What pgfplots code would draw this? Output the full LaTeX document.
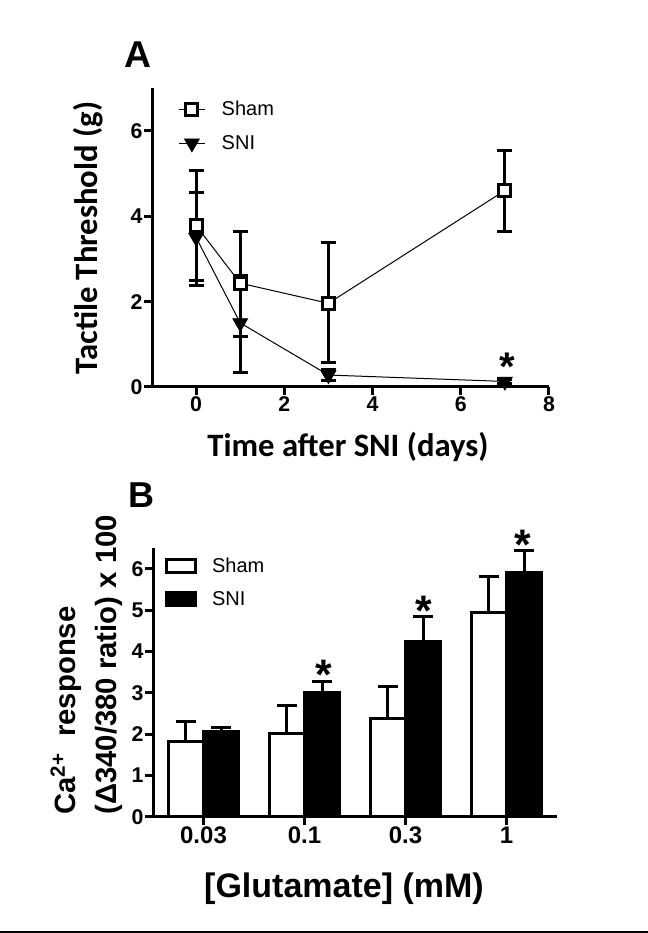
\documentclass[border=0pt]{standalone}
\usepackage{fontspec}
\setmainfont{Liberation Sans}
\newfontfamily\calibri{Carlito}
\usepackage{pgfplots}
\pgfplotsset{compat=1.18}
\begin{document}
\begin{tikzpicture}
\useasboundingbox (0,0) rectangle (486pt,699.75pt);
\fill[white] (0,0) rectangle (486pt,699.75pt);
\draw[line width=1.5pt] (0,0.75pt) -- (486pt,0.75pt);

% ---------- Panel A ----------
\begin{axis}[
  at={(114pt,409.5pt)}, anchor=south west,
  scale only axis, width=297.75pt, height=224.25pt,
  xmin=-1, xmax=8, ymin=0, ymax=7,
  axis lines=left, axis line style={-, line width=2.25pt},
  xtick={0,2,4,6,8}, ytick={0,2,4,6},
  tick align=outside, major tick length=6pt,
  every tick/.style={black, line width=2.25pt},
  xticklabel style={font=\fontsize{16}{16}\selectfont\bfseries, inner sep=1pt},
  yticklabel style={font=\fontsize{16}{16}\selectfont\bfseries, inner sep=1pt},
  /pgf/number format/assume math mode=true,
  clip=false,
  legend style={draw=none, fill=none, at={(axis description cs:0.065,0.965)}, anchor=north west,
    inner sep=0pt, row sep=9pt,
    nodes={font=\fontsize{15}{15}\selectfont},
    /tikz/every odd column/.append style={column sep=10pt}},
  legend cell align=left,
  legend image code/.code={\draw[#1, mark repeat=2, mark phase=2] plot coordinates {(0pt,0pt) (10pt,0pt) (20pt,0pt)};},
]
\addplot[black, line width=0.75pt, mark=square*, mark options={fill=white, line width=2.25pt, mark size=4.5pt, solid},
  error bars/.cd, y dir=both, y explicit,
  error bar style={line width=2.25pt, black},
  error mark options={rotate=90, mark size=5.6pt, line width=2.25pt, black}]
coordinates {
 (0,3.78) += (0,1.28) -= (0,1.41)
 (1,2.43) += (0,1.22) -= (0,1.24)
 (3,1.96) += (0,1.42) -= (0,1.39)
 (7,4.60) += (0,0.93) -= (0,0.96)
};
\addlegendentry{Sham}
\addplot[black, line width=0.75pt, mark=triangle*, mark options={fill=black, rotate=180, mark size=6.5pt, line width=0.5pt, solid},
  error bars/.cd, y dir=both, y explicit,
  error bar style={line width=2.25pt, black},
  error mark options={rotate=90, mark size=5.6pt, line width=2.25pt, black}]
coordinates {
 (0,3.50) += (0,1.05) -= (0,1.01)
 (1,1.50) += (0,1.10) -= (0,1.16)
 (3,0.28) += (0,0.12) -= (0,0.12)
 (7,0.13) += (0,0.04) -= (0,0.04)
};
\addlegendentry{SNI}
\node[font=\bfseries\fontsize{30}{30}\selectfont, yshift=-6pt] at (axis cs:7.06,0.67) {*};
\end{axis}

\node[font=\bfseries\fontsize{28}{28}\selectfont] at (103.5pt,658.5pt) {A};
\node[font=\calibri\bfseries\fontsize{24.5}{24.5}\selectfont, anchor=base, inner sep=0pt] at (261pt,357pt) {Time after SNI (days)};
\node[font=\calibri\bfseries\fontsize{24.5}{24.5}\selectfont, anchor=base, inner sep=0pt, rotate=90] at (72.75pt,521.25pt) {Tactile Threshold (g)};

% ---------- Panel B ----------
\begin{axis}[
  at={(114.75pt,87pt)}, anchor=south west,
  scale only axis, width=303pt, height=201.75pt,
  xmin=-0.5, xmax=3.5, ymin=0, ymax=6.5,
  axis lines=left, axis line style={-, line width=2.25pt},
  xtick={0,1,2,3}, xticklabels={0.03,0.1,0.3,1}, ytick={0,1,2,3,4,5,6},
  tick align=outside, major tick length=6pt,
  every tick/.style={black, line width=2.25pt},
  xticklabel style={font=\fontsize{18}{18}\selectfont\bfseries, inner sep=1pt},
  yticklabel style={font=\fontsize{16}{16}\selectfont\bfseries, inner sep=1pt},
  /pgf/number format/assume math mode=true,
  clip=false,
  legend style={draw=none, fill=none, at={(axis description cs:0.03,0.975)}, anchor=north west,
    inner sep=0pt, row sep=9pt,
    nodes={font=\fontsize{15}{15}\selectfont},
    /tikz/every odd column/.append style={column sep=9pt}},
  legend cell align=left,
  legend image code/.code={\draw[#1] (0pt,-4.9pt) rectangle (21.75pt,4.9pt);},
]
\addplot[ybar, bar width=0.35, bar shift=0, draw=black, fill=white, line width=2.25pt,
  error bars/.cd, y dir=plus, y explicit,
  error bar style={line width=2.25pt, black},
  error mark options={rotate=90, mark size=7.5pt, line width=2.25pt, black}]
coordinates {
 (-0.175,1.82) +- (0,0.49)
 (0.825,2.01) +- (0,0.68)
 (1.825,2.39) +- (0,0.76)
 (2.825,4.95) +- (0,0.87)
};
\addlegendentry{Sham}
\addplot[ybar, bar width=0.35, bar shift=0, draw=black, fill=black, line width=2.25pt,
  error bars/.cd, y dir=plus, y explicit,
  error bar style={line width=2.25pt, black},
  error mark options={rotate=90, mark size=7.5pt, line width=2.25pt, black}]
coordinates {
 (0.175,2.07) +- (0,0.09)
 (1.175,3.00) +- (0,0.28)
 (2.175,4.24) +- (0,0.60)
 (3.175,5.92) +- (0,0.53)
};
\addlegendentry{SNI}
\node[font=\bfseries\fontsize{32}{32}\selectfont, yshift=-6pt] at (axis cs:1.19,3.64) {*};
\node[font=\bfseries\fontsize{32}{32}\selectfont, yshift=-6pt] at (axis cs:2.18,5.17) {*};
\node[font=\bfseries\fontsize{32}{32}\selectfont, yshift=-6pt] at (axis cs:3.16,6.78) {*};
\end{axis}

\node[font=\bfseries\fontsize{27}{27}\selectfont] at (105.75pt,328.5pt) {B};
\node[font=\bfseries\fontsize{25.5}{25.5}\selectfont, anchor=base, inner sep=0pt] at (258pt,27pt) {[Glutamate] (mM)};
\node[font=\bfseries\fontsize{22}{22}\selectfont, anchor=base west, inner sep=0pt, rotate=90] at (56.25pt,88.5pt) {Ca\textsuperscript{2+}\ \ response};
\node[font=\bfseries\fontsize{22}{22}\selectfont, anchor=base west, inner sep=0pt, rotate=90] at (87pt,88.5pt) {(Δ340/380 ratio) x 100};
\end{tikzpicture}
\end{document}
